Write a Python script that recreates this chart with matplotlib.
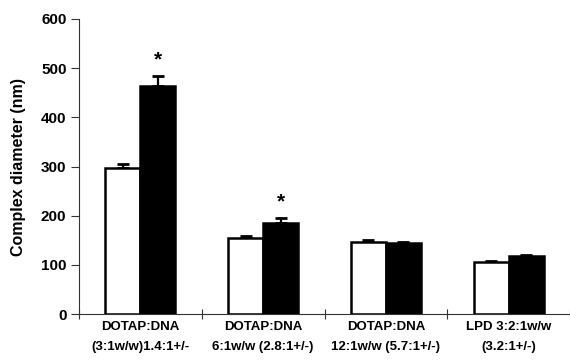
import matplotlib
matplotlib.use("Agg")
import matplotlib.pyplot as plt
import numpy as np

categories = ["DOTAP:DNA\n(3:1w/w)1.4:1+/-", "DOTAP:DNA\n6:1w/w (2.8:1+/-)",
              "DOTAP:DNA\n12:1w/w (5.7:1+/-)", "LPD 3:2:1w/w\n(3.2:1+/-)"]
white_vals = [297, 154, 147, 105]
white_err = [9, 5, 3, 2]
black_vals = [463, 186, 145, 117]
black_err = [22, 10, 2, 3]
star_flags = [True, True, False, False]
yticks = [0, 100, 200, 300, 400, 500, 600]

plt.rcParams['font.family'] = ['Liberation Sans', 'DejaVu Sans']
plt.rcParams['font.weight'] = 'bold'

fig = plt.figure(figsize=(5.7, 3.62), dpi=100)
ax = fig.add_axes([79/570, 1 - 314/362, (570 - 79)/570, (314 - 19)/362])

x = np.arange(len(categories)) + 0.5
w = 0.285
ax.bar(x - w/2, white_vals, w, color='white', edgecolor='black', linewidth=1.8, zorder=3)
ax.bar(x + w/2, black_vals, w, color='black', edgecolor='black', linewidth=1.8, zorder=3)
ax.errorbar(x - w/2, white_vals, yerr=[np.zeros(4), white_err], fmt='none',
            ecolor='black', elinewidth=1.6, capsize=4, capthick=2, zorder=2)
ax.errorbar(x + w/2, black_vals, yerr=[np.zeros(4), black_err], fmt='none',
            ecolor='black', elinewidth=1.6, capsize=4, capthick=2, zorder=2)
for xi, v, e, s in zip(x, black_vals, black_err, star_flags):
    if s:
        ax.text(xi + w/2, v + e + 32, '*', ha='center', va='center', fontsize=15, fontweight='bold')

ax.set_xlim(0, 4)
ax.set_ylim(0, 600)
ax.set_yticks(yticks)
ax.set_yticklabels([str(t) for t in yticks], fontsize=11, fontweight='bold')
ax.set_xticks([0, 1, 2, 3, 4])
ax.set_xticklabels([])
ax.set_xticks(x, minor=True)
ax.set_xticklabels(categories, minor=True, fontsize=9.5, fontweight='bold', linespacing=1.95)
ax.tick_params(axis='x', which='minor', length=0, pad=5)
ax.tick_params(axis='x', which='major', direction='inout', length=7, width=0.8, colors='#333333')
ax.tick_params(axis='y', direction='out', length=6, width=0.8, pad=3, color='#333333')
for lab in ax.get_xticklabels(minor=True):
    lab.set_color('black')
for lab in ax.get_yticklabels():
    lab.set_color('black')
ax.spines['top'].set_visible(False)
ax.spines['right'].set_visible(False)
ax.spines['left'].set_linewidth(0.8)
ax.spines['bottom'].set_linewidth(0.8)
ax.spines['left'].set_color('#333333')
ax.spines['bottom'].set_color('#333333')
ax.set_ylabel('Complex diameter (nm)', fontsize=11.5, fontweight='bold')
ax.yaxis.set_label_coords(-0.108, 0.5)

fig.savefig('out.png', dpi=100)
